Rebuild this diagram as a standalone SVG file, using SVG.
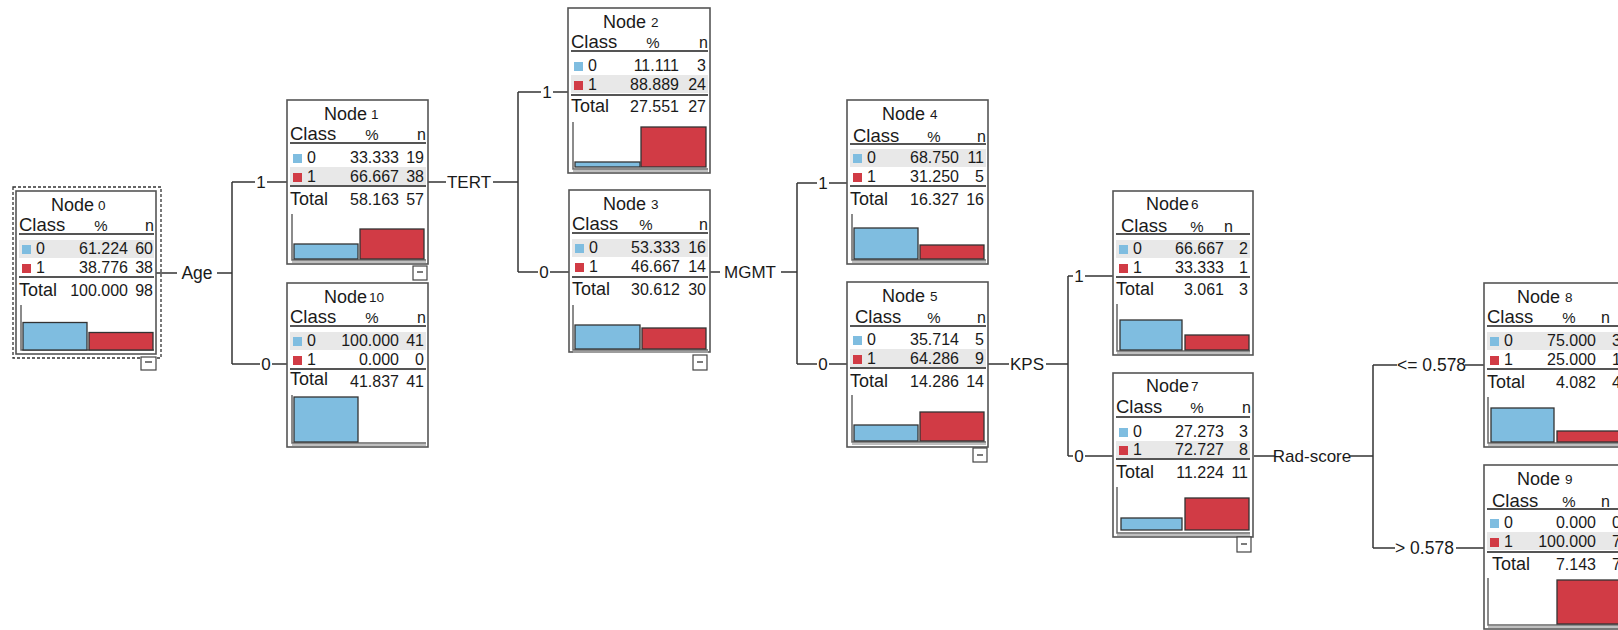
<svg xmlns="http://www.w3.org/2000/svg" width="1618" height="630" viewBox="0 0 1618 630">
<defs>
<style>
text{font-family:"Liberation Sans",Arial,sans-serif;fill:#1a1a1a}
.box{fill:#fff;stroke:#555;stroke-width:1.6}
.title{font-size:18px}
.tnum{font-size:13.5px}
.hd{font-size:18.5px}
.pc{font-size:15px}
.val{font-size:16px}
.tot{font-size:18px}
.r{text-anchor:end}
.m{text-anchor:middle}
.shade{fill:#e8e8e8}
.sep{stroke:#555;stroke-width:2}
.axis{stroke:#666;stroke-width:1.5;fill:none}
.axis2{stroke:#aaa;stroke-width:1.5}
.b0{fill:#7fbde0;stroke:#333;stroke-width:1.3}
.b1{fill:#d13b45;stroke:#333;stroke-width:1.3}
.sq0{fill:#7fbde0}
.sq1{fill:#d13b45}
.minus{fill:#fff;stroke:#444;stroke-width:1.2}
.con line,.con path{stroke:#333;stroke-width:1.5;fill:none}
.lbl{font-size:17px}
.lbl2{font-size:17.5px}
</style>
</defs>
<rect width="1618" height="630" fill="#fff"/>

<!-- connectors -->
<g id="connectors" class="con">
  <line x1="156" y1="273" x2="177" y2="273"/>
  <text class="lbl2 m" x="197" y="279">Age</text>
  <line x1="217" y1="273" x2="232" y2="273"/>
  <line x1="232" y1="182" x2="232" y2="364"/>
  <line x1="232" y1="182" x2="255" y2="182"/><text class="lbl m" x="261" y="188">1</text><line x1="267" y1="182" x2="287" y2="182"/>
  <line x1="232" y1="364" x2="260" y2="364"/><text class="lbl m" x="266" y="370">0</text><line x1="272" y1="364" x2="287" y2="364"/>

  <line x1="428" y1="182" x2="446" y2="182"/>
  <text class="lbl m" x="469" y="188">TERT</text>
  <line x1="493" y1="182" x2="518" y2="182"/>
  <line x1="518" y1="92" x2="518" y2="272"/>
  <line x1="518" y1="92" x2="541" y2="92"/><text class="lbl m" x="547" y="98">1</text><line x1="553" y1="92" x2="568" y2="92"/>
  <line x1="518" y1="272" x2="538" y2="272"/><text class="lbl m" x="544" y="278">0</text><line x1="550" y1="272" x2="569" y2="272"/>

  <line x1="710" y1="272" x2="720" y2="272"/>
  <text class="lbl m" x="750" y="278">MGMT</text>
  <line x1="781" y1="272" x2="797" y2="272"/>
  <line x1="797" y1="183" x2="797" y2="364"/>
  <line x1="797" y1="183" x2="817" y2="183"/><text class="lbl m" x="823" y="189">1</text><line x1="829" y1="183" x2="847" y2="183"/>
  <line x1="797" y1="364" x2="817" y2="364"/><text class="lbl m" x="823" y="370">0</text><line x1="829" y1="364" x2="847" y2="364"/>

  <line x1="988" y1="364" x2="1009" y2="364"/>
  <text class="lbl m" x="1027" y="370">KPS</text>
  <line x1="1046" y1="364" x2="1068" y2="364"/>
  <line x1="1068" y1="276" x2="1068" y2="456"/>
  <line x1="1068" y1="276" x2="1073" y2="276"/><text class="lbl m" x="1079" y="282">1</text><line x1="1085" y1="276" x2="1113" y2="276"/>
  <line x1="1068" y1="456" x2="1073" y2="456"/><text class="lbl m" x="1079" y="462">0</text><line x1="1085" y1="456" x2="1113" y2="456"/>

  <line x1="1254" y1="456" x2="1275" y2="456"/>
  <text class="lbl m" x="1312" y="462">Rad-score</text>
  <line x1="1350" y1="456" x2="1373" y2="456"/>
  <line x1="1373" y1="365" x2="1373" y2="548"/>
  <line x1="1373" y1="365" x2="1397" y2="365"/><text class="lbl2" x="1397" y="371">&lt;= 0.578</text><line x1="1465" y1="365" x2="1484" y2="365"/>
  <line x1="1373" y1="548" x2="1395" y2="548"/><text class="lbl2" x="1395" y="554">&gt; 0.578</text><line x1="1456" y1="548" x2="1484" y2="548"/>
</g>

<!-- Node 0 -->
<g id="node0" transform="translate(16,191)">
  <rect x="-3" y="-4" width="148" height="171" fill="none" stroke="#333" stroke-width="1.3" stroke-dasharray="3,2"/>
  <rect class="box" x="0" y="0" width="140" height="163" stroke-width="3" stroke="#333"/>
  <text class="title" x="35" y="20">Node<tspan class="tnum" dx="4" dy="-1">0</tspan></text>
  <text class="hd" x="3" y="40">Class</text><text class="pc m" x="85" y="40">%</text><text class="val r" x="138" y="40">n</text>
  <line class="sep" x1="3" y1="43" x2="138" y2="43"/>
  <rect class="shade" x="3" y="49" width="135" height="18"/>
  <rect class="sq0" x="6" y="54" width="9" height="9"/><text class="val" x="20" y="63">0</text><text class="val r" x="112" y="63">61.224</text><text class="val r" x="137" y="63">60</text>
  <rect class="sq1" x="6" y="73" width="9" height="9"/><text class="val" x="20" y="82">1</text><text class="val r" x="112" y="82">38.776</text><text class="val r" x="137" y="82">38</text>
  <line class="sep" x1="3" y1="86" x2="138" y2="86"/>
  <text class="tot" x="3" y="105">Total</text><text class="val r" x="112" y="105">100.000</text><text class="val r" x="137" y="105">98</text>
  <polyline class="axis" points="5,114 5,159 138,159"/>
  <rect class="b0" x="7" y="131.5" width="64" height="27.5"/>
  <rect class="b1" x="73" y="141.5" width="64" height="17.5"/>
  <rect class="minus" x="125" y="166" width="15" height="13"/><line x1="129" y1="171" x2="136" y2="171" stroke="#333" stroke-width="1.3"/>
</g>

<!-- Node 1 -->
<g id="node1" transform="translate(287,100)">
  <rect class="box" x="0" y="0" width="141" height="164"/>
  <text class="title" x="37" y="20">Node<tspan class="tnum" dx="4" dy="-1">1</tspan></text>
  <text class="hd" x="3" y="40">Class</text><text class="pc m" x="85" y="40">%</text><text class="val r" x="139" y="40">n</text>
  <line class="sep" x1="3" y1="43" x2="139" y2="43"/>
  <rect class="shade" x="3" y="67" width="136" height="18"/>
  <rect class="sq0" x="6" y="54" width="9" height="9"/><text class="val" x="20" y="63">0</text><text class="val r" x="112" y="63">33.333</text><text class="val r" x="137" y="63">19</text>
  <rect class="sq1" x="6" y="73" width="9" height="9"/><text class="val" x="20" y="82">1</text><text class="val r" x="112" y="82">66.667</text><text class="val r" x="137" y="82">38</text>
  <line class="sep" x1="3" y1="86" x2="139" y2="86"/>
  <text class="tot" x="3" y="105">Total</text><text class="val r" x="112" y="105">58.163</text><text class="val r" x="137" y="105">57</text>
  <polyline class="axis" points="5,114 5,160 139,160"/><line class="axis2" x1="5" y1="162" x2="139" y2="162"/>
  <rect class="b0" x="7" y="144" width="64" height="15"/>
  <rect class="b1" x="73" y="129" width="64" height="30"/>
  <rect class="minus" x="126" y="166" width="14" height="14"/><line x1="130" y1="172" x2="136" y2="172" stroke="#333" stroke-width="1.3"/>
</g>

<!-- Node 10 -->
<g id="node10" transform="translate(287,283)">
  <rect class="box" x="0" y="0" width="141" height="164"/>
  <text class="title" x="37" y="20">Node<tspan class="tnum" dx="2" dy="-1">10</tspan></text>
  <text class="hd" x="3" y="40">Class</text><text class="pc m" x="85" y="40">%</text><text class="val r" x="139" y="40">n</text>
  <line class="sep" x1="3" y1="43" x2="139" y2="43"/>
  <rect class="shade" x="3" y="49" width="136" height="18"/>
  <rect class="sq0" x="6" y="54" width="9" height="9"/><text class="val" x="20" y="63">0</text><text class="val r" x="112" y="63">100.000</text><text class="val r" x="137" y="63">41</text>
  <rect class="sq1" x="6" y="73" width="9" height="9"/><text class="val" x="20" y="82">1</text><text class="val r" x="112" y="82">0.000</text><text class="val r" x="137" y="82">0</text>
  <line class="sep" x1="3" y1="86" x2="139" y2="86"/>
  <text class="tot" x="3" y="102">Total</text><text class="val r" x="112" y="104">41.837</text><text class="val r" x="137" y="104">41</text>
  <polyline class="axis" points="5,112 5,160 139,160"/><line class="axis2" x1="5" y1="162" x2="139" y2="162"/>
  <rect class="b0" x="7" y="114" width="64" height="45"/>
</g>

<!-- Node 2 -->
<g id="node2" transform="translate(568,8)">
  <rect class="box" x="0" y="0" width="142" height="165"/>
  <text class="title" x="35" y="20">Node<tspan class="tnum" dx="5" dy="-1">2</tspan></text>
  <text class="hd" x="3" y="40">Class</text><text class="pc m" x="85" y="40">%</text><text class="val r" x="140" y="40">n</text>
  <line class="sep" x1="3" y1="43" x2="140" y2="43"/>
  <rect class="shade" x="3" y="67" width="137" height="18"/>
  <rect class="sq0" x="6" y="54" width="9" height="9"/><text class="val" x="20" y="63">0</text><text class="val r" x="111" y="63">11.111</text><text class="val r" x="138" y="63">3</text>
  <rect class="sq1" x="6" y="73" width="9" height="9"/><text class="val" x="20" y="82">1</text><text class="val r" x="111" y="82">88.889</text><text class="val r" x="138" y="82">24</text>
  <line class="sep" x1="3" y1="87" x2="140" y2="87"/>
  <text class="tot" x="3" y="104">Total</text><text class="val r" x="111" y="104">27.551</text><text class="val r" x="138" y="104">27</text>
  <polyline class="axis" points="5,114 5,161 140,161"/><line class="axis2" x1="5" y1="163" x2="140" y2="163"/>
  <rect class="b0" x="7" y="154" width="65" height="5"/>
  <rect class="b1" x="73" y="119" width="65" height="40"/>
</g>

<!-- Node 3 -->
<g id="node3" transform="translate(569,190)">
  <rect class="box" x="0" y="0" width="141" height="162"/>
  <text class="title" x="34" y="20">Node<tspan class="tnum" dx="5" dy="-1">3</tspan></text>
  <text class="hd" x="3" y="40">Class</text><text class="pc m" x="77" y="40">%</text><text class="val r" x="139" y="40">n</text>
  <line class="sep" x1="3" y1="43" x2="139" y2="43"/>
  <rect class="shade" x="3" y="49" width="136" height="18"/>
  <rect class="sq0" x="6" y="54" width="9" height="9"/><text class="val" x="20" y="63">0</text><text class="val r" x="111" y="63">53.333</text><text class="val r" x="137" y="63">16</text>
  <rect class="sq1" x="6" y="73" width="9" height="9"/><text class="val" x="20" y="82">1</text><text class="val r" x="111" y="82">46.667</text><text class="val r" x="137" y="82">14</text>
  <line class="sep" x1="3" y1="87" x2="139" y2="87"/>
  <text class="tot" x="3" y="105">Total</text><text class="val r" x="111" y="105">30.612</text><text class="val r" x="137" y="105">30</text>
  <polyline class="axis" points="4,115 4,160 139,160"/><line class="axis2" x1="4" y1="162" x2="139" y2="162"/>
  <rect class="b0" x="6" y="135" width="65" height="24"/>
  <rect class="b1" x="73" y="138" width="64" height="21"/>
  <rect class="minus" x="124" y="165" width="14" height="15"/><line x1="128" y1="172" x2="134" y2="172" stroke="#333" stroke-width="1.3"/>
</g>

<!-- Node 4 -->
<g id="node4" transform="translate(847,100)">
  <rect class="box" x="0" y="0" width="141" height="164"/>
  <text class="title" x="35" y="20">Node<tspan class="tnum" dx="5" dy="-1">4</tspan></text>
  <text class="hd" x="6" y="42">Class</text><text class="pc m" x="87" y="42">%</text><text class="val r" x="139" y="42">n</text>
  <line class="sep" x1="3" y1="44" x2="139" y2="44"/>
  <rect class="shade" x="3" y="49" width="136" height="18"/>
  <rect class="sq0" x="6" y="54" width="9" height="9"/><text class="val" x="20" y="63">0</text><text class="val r" x="112" y="63">68.750</text><text class="val r" x="137" y="63">11</text>
  <rect class="sq1" x="6" y="73" width="9" height="9"/><text class="val" x="20" y="82">1</text><text class="val r" x="112" y="82">31.250</text><text class="val r" x="137" y="82">5</text>
  <line class="sep" x1="3" y1="86" x2="139" y2="86"/>
  <text class="tot" x="3" y="105">Total</text><text class="val r" x="112" y="105">16.327</text><text class="val r" x="137" y="105">16</text>
  <polyline class="axis" points="5,114 5,160 139,160"/><line class="axis2" x1="5" y1="162" x2="139" y2="162"/>
  <rect class="b0" x="7" y="128" width="64" height="31"/>
  <rect class="b1" x="73" y="145" width="64" height="14"/>
</g>

<!-- Node 5 -->
<g id="node5" transform="translate(847,282)">
  <rect class="box" x="0" y="0" width="141" height="165"/>
  <text class="title" x="35" y="20">Node<tspan class="tnum" dx="5" dy="-1">5</tspan></text>
  <text class="hd" x="8" y="41">Class</text><text class="pc m" x="87" y="41">%</text><text class="val r" x="139" y="41">n</text>
  <line class="sep" x1="3" y1="44" x2="139" y2="44"/>
  <rect class="shade" x="3" y="67" width="136" height="18"/>
  <rect class="sq0" x="6" y="54" width="9" height="9"/><text class="val" x="20" y="63">0</text><text class="val r" x="112" y="63">35.714</text><text class="val r" x="137" y="63">5</text>
  <rect class="sq1" x="6" y="73" width="9" height="9"/><text class="val" x="20" y="82">1</text><text class="val r" x="112" y="82">64.286</text><text class="val r" x="137" y="82">9</text>
  <line class="sep" x1="3" y1="86" x2="139" y2="86"/>
  <text class="tot" x="3" y="105">Total</text><text class="val r" x="112" y="105">14.286</text><text class="val r" x="137" y="105">14</text>
  <polyline class="axis" points="5,113 5,160 139,160"/><line class="axis2" x1="5" y1="162" x2="139" y2="162"/>
  <rect class="b0" x="7" y="143" width="64" height="16"/>
  <rect class="b1" x="73" y="130" width="64" height="29"/>
  <rect class="minus" x="126" y="166" width="14" height="14"/><line x1="130" y1="173" x2="136" y2="173" stroke="#333" stroke-width="1.3"/>
</g>

<!-- Node 6 -->
<g id="node6" transform="translate(1113,191)">
  <rect class="box" x="0" y="0" width="140" height="164"/>
  <text class="title" x="33" y="19">Node<tspan class="tnum" dx="2" dy="-1">6</tspan></text>
  <text class="hd" x="8" y="41">Class</text><text class="pc m" x="84" y="41">%</text><text class="val r" x="120" y="41">n</text>
  <line class="sep" x1="3" y1="43" x2="137" y2="43"/>
  <rect class="shade" x="3" y="49" width="134" height="18"/>
  <rect class="sq0" x="6" y="54" width="9" height="9"/><text class="val" x="20" y="63">0</text><text class="val r" x="111" y="63">66.667</text><text class="val r" x="135" y="63">2</text>
  <rect class="sq1" x="6" y="73" width="9" height="9"/><text class="val" x="20" y="82">1</text><text class="val r" x="111" y="82">33.333</text><text class="val r" x="135" y="82">1</text>
  <line class="sep" x1="3" y1="86" x2="137" y2="86"/>
  <text class="tot" x="3" y="104">Total</text><text class="val r" x="111" y="104">3.061</text><text class="val r" x="135" y="104">3</text>
  <polyline class="axis" points="4,113 4,160 137,160"/><line class="axis2" x1="4" y1="162" x2="137" y2="162"/>
  <rect class="b0" x="7" y="129" width="62" height="30"/>
  <rect class="b1" x="72" y="144" width="64" height="15"/>
</g>

<!-- Node 7 -->
<g id="node7" transform="translate(1113,373)">
  <rect class="box" x="0" y="0" width="140" height="164"/>
  <text class="title" x="33" y="19">Node<tspan class="tnum" dx="2" dy="-1">7</tspan></text>
  <text class="hd" x="3" y="40">Class</text><text class="pc m" x="84" y="40">%</text><text class="val r" x="138" y="40">n</text>
  <line class="sep" x1="3" y1="44" x2="137" y2="44"/>
  <rect class="shade" x="3" y="68" width="134" height="17"/>
  <rect class="sq0" x="6" y="55" width="9" height="9"/><text class="val" x="20" y="64">0</text><text class="val r" x="111" y="64">27.273</text><text class="val r" x="135" y="64">3</text>
  <rect class="sq1" x="6" y="73" width="9" height="9"/><text class="val" x="20" y="82">1</text><text class="val r" x="111" y="82">72.727</text><text class="val r" x="135" y="82">8</text>
  <line class="sep" x1="3" y1="86" x2="137" y2="86"/>
  <text class="tot" x="3" y="105">Total</text><text class="val r" x="111" y="105">11.224</text><text class="val r" x="135" y="105">11</text>
  <polyline class="axis" points="4,114 4,160 137,160"/><line class="axis2" x1="4" y1="162" x2="137" y2="162"/>
  <rect class="b0" x="8" y="145" width="61" height="12"/>
  <rect class="b1" x="72" y="125" width="64" height="32"/>
  <rect class="minus" x="124" y="164" width="14" height="15"/><line x1="128" y1="171" x2="134" y2="171" stroke="#333" stroke-width="1.3"/>
</g>

<!-- Node 8 -->
<g id="node8" transform="translate(1484,283)">
  <rect class="box" x="0" y="0" width="141" height="164"/>
  <text class="title" x="33" y="20">Node<tspan class="tnum" dx="5" dy="-1">8</tspan></text>
  <text class="hd" x="3" y="40">Class</text><text class="pc m" x="85" y="40">%</text><text class="val r" x="126" y="40">n</text>
  <line class="sep" x1="3" y1="43" x2="139" y2="43"/>
  <rect class="shade" x="3" y="49" width="136" height="18"/>
  <rect class="sq0" x="6" y="54" width="9" height="9"/><text class="val" x="20" y="63">0</text><text class="val r" x="112" y="63">75.000</text><text class="val r" x="137" y="63">3</text>
  <rect class="sq1" x="6" y="73" width="9" height="9"/><text class="val" x="20" y="82">1</text><text class="val r" x="112" y="82">25.000</text><text class="val r" x="137" y="82">1</text>
  <line class="sep" x1="3" y1="86" x2="139" y2="86"/>
  <text class="tot" x="3" y="105">Total</text><text class="val r" x="112" y="105">4.082</text><text class="val r" x="137" y="105">4</text>
  <polyline class="axis" points="4,114 4,160 139,160"/><line class="axis2" x1="4" y1="162" x2="139" y2="162"/>
  <rect class="b0" x="7" y="125" width="63" height="34"/>
  <rect class="b1" x="73" y="148" width="64" height="11"/>
</g>

<!-- Node 9 -->
<g id="node9" transform="translate(1484,465)">
  <rect class="box" x="0" y="0" width="141" height="164"/>
  <text class="title" x="33" y="20">Node<tspan class="tnum" dx="5" dy="-1">9</tspan></text>
  <text class="hd" x="8" y="42">Class</text><text class="pc m" x="85" y="42">%</text><text class="val r" x="126" y="42">n</text>
  <line class="sep" x1="3" y1="44" x2="139" y2="44"/>
  <rect class="shade" x="3" y="67" width="136" height="18"/>
  <rect class="sq0" x="6" y="54" width="9" height="9"/><text class="val" x="20" y="63">0</text><text class="val r" x="112" y="63">0.000</text><text class="val r" x="137" y="63">0</text>
  <rect class="sq1" x="6" y="73" width="9" height="9"/><text class="val" x="20" y="82">1</text><text class="val r" x="112" y="82">100.000</text><text class="val r" x="137" y="82">7</text>
  <line class="sep" x1="3" y1="87" x2="139" y2="87"/>
  <text class="tot" x="8" y="105">Total</text><text class="val r" x="112" y="105">7.143</text><text class="val r" x="137" y="105">7</text>
  <polyline class="axis" points="4,113 4,160 139,160"/><line class="axis2" x1="4" y1="162" x2="139" y2="162"/>
  <rect class="b1" x="73" y="115" width="64" height="44"/>
</g>
</svg>
